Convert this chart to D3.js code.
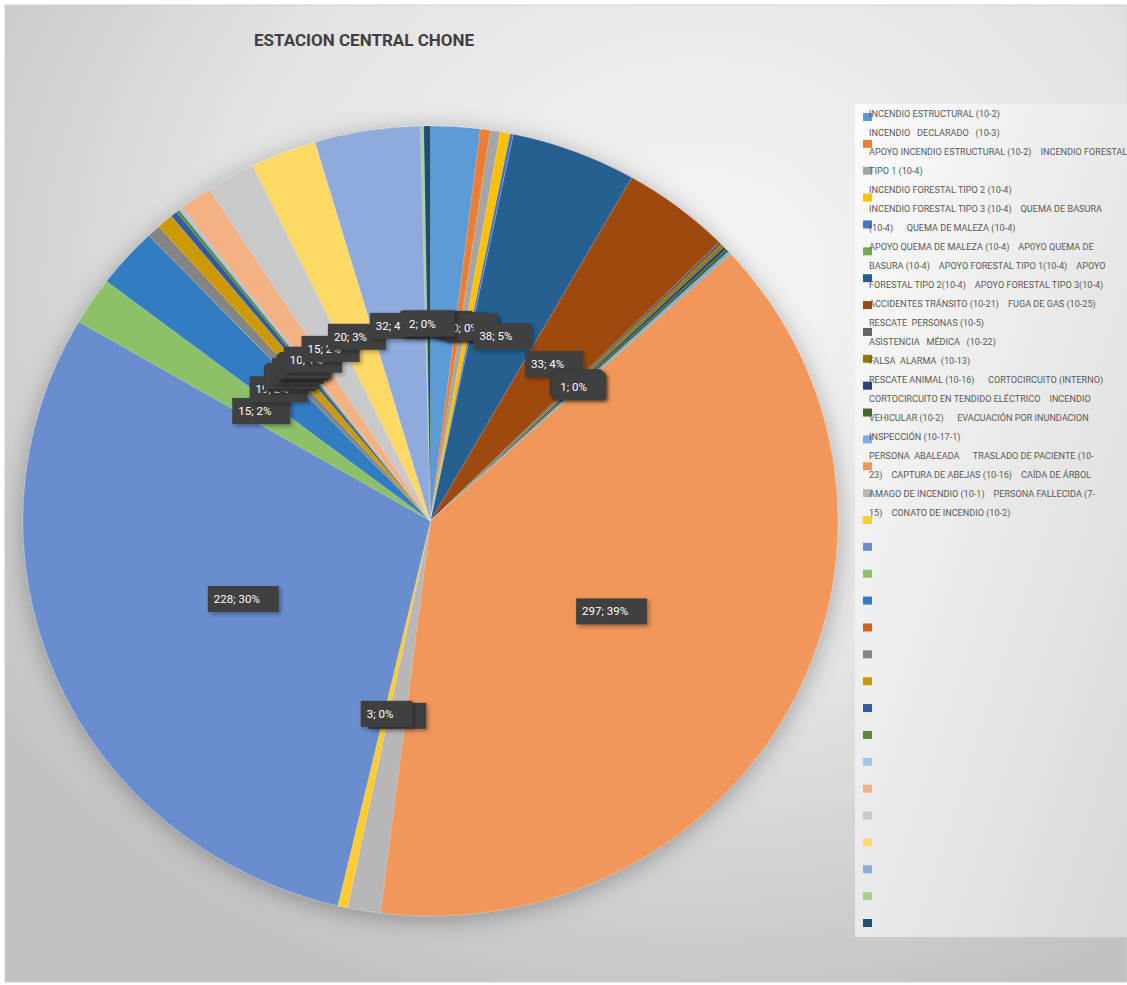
<!DOCTYPE html>
<html>
<head>
<meta charset="utf-8">
<script src="https://cdn.jsdelivr.net/npm/d3@7"></script>
<style>
  body { margin: 0; background: #ffffff; }
  svg text { font-family: "Liberation Sans Narrow", "Roboto", "Liberation Sans", sans-serif; }
</style>
</head>
<body>
<div id="graphic"></div>
<script>
(function(d3){

    // Canvas size
    let width = 1127, height = 985;

    // Pie geometry (the pie is slightly squashed vertically)
    let cx = 430.5, cy = 521;
    let rx = 407.5, ry = 395;
    let squash = ry / rx;

    const title = 'ESTACION CENTRAL CHONE';

    const categories = [
        'INCENDIO ESTRUCTURAL (10-2)',
        'INCENDIO DECLARADO (10-3)',
        'APOYO INCENDIO ESTRUCTURAL (10-2)',
        'INCENDIO FORESTAL TIPO 1 (10-4)',
        'INCENDIO FORESTAL TIPO 2 (10-4)',
        'INCENDIO FORESTAL TIPO 3 (10-4)',
        'QUEMA DE BASURA (10-4)',
        'QUEMA DE MALEZA (10-4)',
        'APOYO QUEMA DE MALEZA (10-4)',
        'APOYO QUEMA DE BASURA (10-4)',
        'APOYO FORESTAL TIPO 1(10-4)',
        'APOYO FORESTAL TIPO 2(10-4)',
        'APOYO FORESTAL TIPO 3(10-4)',
        'ACCIDENTES TRÁNSITO (10-21)',
        'FUGA DE GAS (10-25)',
        'RESCATE PERSONAS (10-5)',
        'ASISTENCIA MÉDICA (10-22)',
        'FALSA ALARMA (10-13)',
        'RESCATE ANIMAL (10-16)',
        'CORTOCIRCUITO (INTERNO)',
        'CORTOCIRCUITO EN TENDIDO ELÉCTRICO',
        'INCENDIO VEHICULAR (10-2)',
        'EVACUACIÓN POR INUNDACION',
        'INSPECCIÓN (10-17-1)',
        'PERSONA ABALEADA',
        'TRASLADO DE PACIENTE (10-23)',
        'CAPTURA DE ABEJAS (10-16)',
        'CAÍDA DE ÁRBOL',
        'AMAGO DE INCENDIO (10-1)',
        'PERSONA FALLECIDA (7-15)',
        'CONATO DE INCENDIO (10-2)'
    ];

    const values = [
        15, 3, 3, 3, 1, 0, 38, 33, 1, 1, 1, 1, 1, 297, 10, 3,
        228, 15, 19, 0, 4, 5, 2, 1, 1, 10, 15, 20, 32, 1, 2
    ];

    const palette = [
        '#5b9bd5', '#ed7d31', '#a5a5a5', '#ffc000', '#4472c4', '#70ad47',
        '#255e91', '#9e480e', '#636363', '#997300', '#264478', '#43682b',
        '#7cafdd', '#f1975a', '#b7b7b7', '#ffcd33', '#698ed0', '#8cc168',
        '#327dc2', '#d26012', '#848484', '#cc9a00', '#335aa1', '#5a8a39',
        '#a3c5e7', '#f4b183', '#c9c9c9', '#ffd966', '#8faadc', '#a9d18e',
        '#1f4e79'
    ];

    // The legend text as it flows in the reference (one wrapped block)
    const legendLines = [
        'INCENDIO ESTRUCTURAL (10-2)',
        'INCENDIO   DECLARADO   (10-3)',
        'APOYO INCENDIO ESTRUCTURAL (10-2)    INCENDIO FORESTAL',
        'TIPO 1 (10-4)',
        'INCENDIO FORESTAL TIPO 2 (10-4)',
        'INCENDIO FORESTAL TIPO 3 (10-4)    QUEMA DE BASURA',
        '(10-4)      QUEMA DE MALEZA (10-4)',
        'APOYO QUEMA DE MALEZA (10-4)    AP0YO QUEMA DE',
        'BASURA (10-4)    APOYO FORESTAL TIPO 1(10-4)    APOYO',
        'FORESTAL TIPO 2(10-4)    APOYO FORESTAL TIPO 3(10-4)',
        'ACCIDENTES TRÁNSITO (10-21)    FUGA DE GAS (10-25)',
        'RESCATE  PERSONAS (10-5)',
        'ASISTENCIA   MÉDICA   (10-22)',
        'FALSA  ALARMA  (10-13)',
        'RESCATE ANIMAL (10-16)      CORTOCIRCUITO (INTERNO)',
        'CORTOCIRCUITO EN TENDIDO ELÉCTRICO    INCENDIO',
        'VEHICULAR (10-2)      EVACUACIÓN POR INUNDACION',
        'INSPECCIÓN (10-17-1)',
        'PERSONA  ABALEADA      TRASLADO DE PACIENTE (10-',
        '23)    CAPTURA DE ABEJAS (10-16)    CAÍDA DE ÁRBOL',
        'AMAGO DE INCENDIO (10-1)    PERSONA FALLECIDA (7-',
        '15)    CONATO DE INCENDIO (10-2)'
    ];

    let svg = d3.select('#graphic')
                .append('svg')
                .attr('width', width)
                .attr('height', height);

    let defs = svg.append('defs');

    // Chart area background: soft radial grey
    let bg = defs.append('radialGradient')
        .attr('id', 'bg-grad')
        .attr('cx', '62%').attr('cy', '28%').attr('r', '78%');
    bg.append('stop').attr('offset', '0%').attr('stop-color', '#f6f6f6');
    bg.append('stop').attr('offset', '55%').attr('stop-color', '#e3e3e3');
    bg.append('stop').attr('offset', '100%').attr('stop-color', '#c2c2c2');

    let lg = defs.append('linearGradient')
        .attr('id', 'legend-grad')
        .attr('x1', '0%').attr('y1', '0%').attr('x2', '100%').attr('y2', '100%');
    lg.append('stop').attr('offset', '0%').attr('stop-color', '#fbfbfb');
    lg.append('stop').attr('offset', '100%').attr('stop-color', '#d8d8d8');

    let pieShadow = defs.append('filter')
        .attr('id', 'pie-shadow')
        .attr('x', '-20%').attr('y', '-20%').attr('width', '140%').attr('height', '140%');
    pieShadow.append('feDropShadow')
        .attr('dx', 0).attr('dy', 4)
        .attr('stdDeviation', 12)
        .attr('flood-color', '#000').attr('flood-opacity', 0.3);

    let boxShadow = defs.append('filter')
        .attr('id', 'box-shadow')
        .attr('x', '-30%').attr('y', '-30%').attr('width', '160%').attr('height', '160%');
    boxShadow.append('feDropShadow')
        .attr('dx', 2).attr('dy', 2)
        .attr('stdDeviation', 2)
        .attr('flood-color', '#000').attr('flood-opacity', 0.35);

    svg.append('rect')
        .attr('x', 5).attr('y', 5)
        .attr('width', width - 5).attr('height', height - 8)
        .attr('fill', 'url(#bg-grad)')
        .attr('stroke', '#d0d0d0')
        .attr('stroke-width', 1);

    svg.append('text')
        .attr('x', 254).attr('y', 46)
        .style('font-size', '17px')
        .style('font-weight', 'bold')
        .attr('fill', '#404040')
        .text(title);

    // Pie
    let data = categories.map((c, i) => ({ name: c, value: values[i], color: palette[i] }));
    let total = d3.sum(values);

    let pie = d3.pie().sort(null).value(d => d.value);
    let arcs = pie(data);

    let arc = d3.arc().innerRadius(0).outerRadius(rx);

    let pieG = svg.append('g')
        .attr('transform', `translate(${cx} ${cy}) scale(1 ${squash})`)
        .attr('filter', 'url(#pie-shadow)');

    pieG.selectAll('path')
        .data(arcs)
        .enter()
        .append('path')
        .attr('d', arc)
        .attr('fill', d => d.data.color)
        .attr('stroke', '#ffffff')
        .attr('stroke-opacity', 0.35)
        .attr('stroke-width', 0.4);

    // Data labels: "value; pct%" in dark boxes at the slice centroid
    let labelG = svg.append('g');
    arcs.forEach(a => {
        let c = arc.centroid(a);
        let lx = cx + c[0], ly = cy + c[1] * squash;
        let pct = Math.round(100 * a.data.value / total);
        let g = labelG.append('g');
        let box = g.append('rect')
            .attr('fill', '#404040')
            .attr('filter', 'url(#box-shadow)');
        let t = g.append('text')
            .attr('fill', '#ffffff')
            .style('font-size', '11.5px')
            .attr('dominant-baseline', 'central')
            .text(`${a.data.value}; ${pct}%`);
        let tw = t.node().getComputedTextLength();
        let bw = tw + 25, bh = 26;
        box.attr('x', lx - bw / 2).attr('y', ly - bh / 2)
           .attr('width', bw).attr('height', bh);
        t.attr('x', lx - bw / 2 + 6).attr('y', ly);
    });

    // Legend
    let legendX = 855, legendY = 104;
    let legendW = 272, legendH = 833;
    let legend = svg.append('g');

    legend.append('rect')
        .attr('x', legendX).attr('y', legendY)
        .attr('width', legendW).attr('height', legendH)
        .attr('fill', 'url(#legend-grad)');

    let swatchStep = d3.scaleLinear()
        .domain([0, palette.length - 1])
        .range([113, 919]);

    legend.selectAll('rect.swatch')
        .data(data)
        .enter()
        .append('rect')
        .attr('class', 'swatch')
        .attr('x', 863)
        .attr('y', (d, i) => swatchStep(i))
        .attr('width', 9).attr('height', 8)
        .attr('fill', d => d.color);

    legend.selectAll('text.line')
        .data(legendLines)
        .enter()
        .append('text')
        .attr('class', 'line')
        .attr('x', 869)
        .attr('y', (d, i) => 114 + i * 19)
        .attr('dominant-baseline', 'central')
        .attr('xml:space', 'preserve')
        .style('white-space', 'pre')
        .style('font-size', '9.1px')
        .attr('fill', '#595959')
        .text(d => d);

})(window.d3);
</script>
</body>
</html>
